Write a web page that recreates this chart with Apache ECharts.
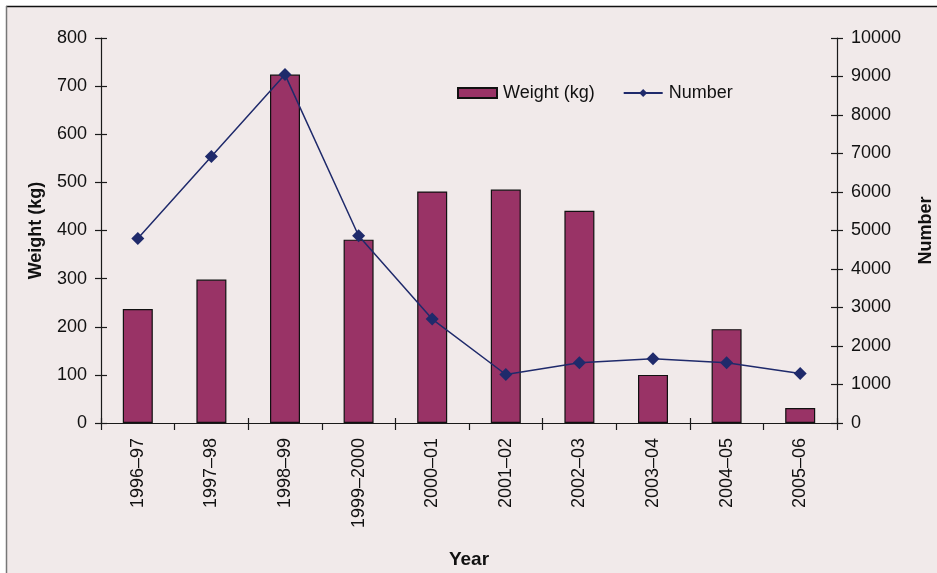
<!DOCTYPE html>
<html>
<head>
<meta charset="utf-8">
<script src="https://cdn.jsdelivr.net/npm/echarts@6/dist/echarts.min.js"></script>
<style>
html,body{margin:0;padding:0;background:#fff;}
#c{width:937px;height:573px;}
</style>
</head>
<body>
<div id="c"></div>
<script>
const categories = ['1996\u201397','1997\u201398','1998\u201399','1999\u20132000','2000\u201301','2001\u201302','2002\u201303','2003\u201304','2004\u201305','2005\u201306'];
const weightKg = [237, 298, 724, 381, 481, 485, 441, 100, 195, 31];
const numberCount = [4790, 6925, 9050, 4865, 2700, 1260, 1565, 1670, 1565, 1285];
const leftTicks = {min: 0, max: 800, interval: 100};
const rightTicks = {min: 0, max: 10000, interval: 1000};

const FONT = '"Liberation Sans", Arial, Helvetica, sans-serif';
const TXT = {fontFamily: FONT, fontSize: 18, color: '#111'};
const axisLineStyle = {color: '#1a1a1a', width: 1.2};

const chart = echarts.init(document.getElementById('c'), null, {renderer: 'canvas'});
const grid = {left: 101, right: 100, top: 38, bottom: 150, containLabel: false, outerBoundsMode: 'none'};

function yBase(pos, t, name, nameGap) {
  return {
    type: 'value', position: pos, min: t.min, max: t.max, interval: t.interval,
    name: name, nameLocation: 'middle', nameGap: nameGap, nameRotate: 90,
    nameTextStyle: {fontFamily: FONT, fontSize: 18, fontWeight: 'bold', color: '#111'},
    axisLine: {show: true, lineStyle: axisLineStyle},
    axisTick: {show: true, length: 6, lineStyle: axisLineStyle},
    axisLabel: Object.assign({margin: 14, formatter: function (v) { return String(v); }}, TXT),
    splitLine: {show: false}
  };
}
function yInner(pos, t) {
  return {
    type: 'value', position: pos, min: t.min, max: t.max, interval: t.interval,
    axisLine: {show: false},
    axisTick: {show: true, inside: true, length: 6, lineStyle: axisLineStyle},
    axisLabel: {show: false}, splitLine: {show: false}
  };
}

chart.setOption({
  backgroundColor: '#ffffff',
  animation: false,
  graphic: [
    {type: 'rect', z: -10, shape: {x: 7, y: 7, width: 930, height: 566}, style: {fill: '#f1eaea'}},
    {type: 'line', z: -9, shape: {x1: 6, y1: 6.5, x2: 937, y2: 6.5}, style: {stroke: '#111', lineWidth: 1.5}},
    {type: 'line', z: -9, shape: {x1: 6.5, y1: 6, x2: 6.5, y2: 573}, style: {stroke: '#777', lineWidth: 1.5}}
  ],
  grid: grid,
  legend: {
    left: 452, top: 79,
    itemWidth: 39, itemHeight: 10, itemGap: 28,
    textStyle: Object.assign({padding: [0, 0, 0, 1]}, TXT),
    data: [
      {name: 'Weight (kg)', icon: 'rect'},
      {name: 'Number'}
    ]
  },
  xAxis: [
    {
      type: 'category', data: categories, position: 'bottom',
      name: 'Year', nameLocation: 'middle', nameGap: 127,
      nameTextStyle: {fontFamily: '"Liberation Sans Narrow", "Liberation Sans", Arial, sans-serif', fontSize: 19, fontWeight: 'bold', color: '#111'},
      axisLine: {show: true, lineStyle: axisLineStyle},
      axisTick: {show: true, length: 7, alignWithLabel: false, lineStyle: axisLineStyle},
      axisLabel: Object.assign({rotate: 90, margin: 15, interval: 0}, TXT),
      splitLine: {show: false}
    },
    {
      type: 'category', data: categories, position: 'bottom',
      axisLine: {show: false},
      axisTick: {show: true, inside: true, length: 5, lineStyle: axisLineStyle},
      axisLabel: {show: false}, splitLine: {show: false}
    }
  ],
  yAxis: [
    yBase('left', leftTicks, 'Weight (kg)', 56),
    yBase('right', rightTicks, 'Number', 80),
    yInner('left', leftTicks),
    yInner('right', rightTicks)
  ],
  series: [
    {
      name: 'Weight (kg)', type: 'bar', data: weightKg, xAxisIndex: 0, yAxisIndex: 0,
      barWidth: 30,
      itemStyle: {color: '#993366', borderColor: '#111', borderWidth: 1.2}
    },
    {
      name: 'Number', type: 'line', data: numberCount, xAxisIndex: 0, yAxisIndex: 1,
      symbol: 'diamond', symbolSize: 13, showAllSymbol: true,
      lineStyle: {color: '#1f2a6b', width: 1.5},
      itemStyle: {color: '#1f2a6b'}
    }
  ]
});
</script>
</body>
</html>
